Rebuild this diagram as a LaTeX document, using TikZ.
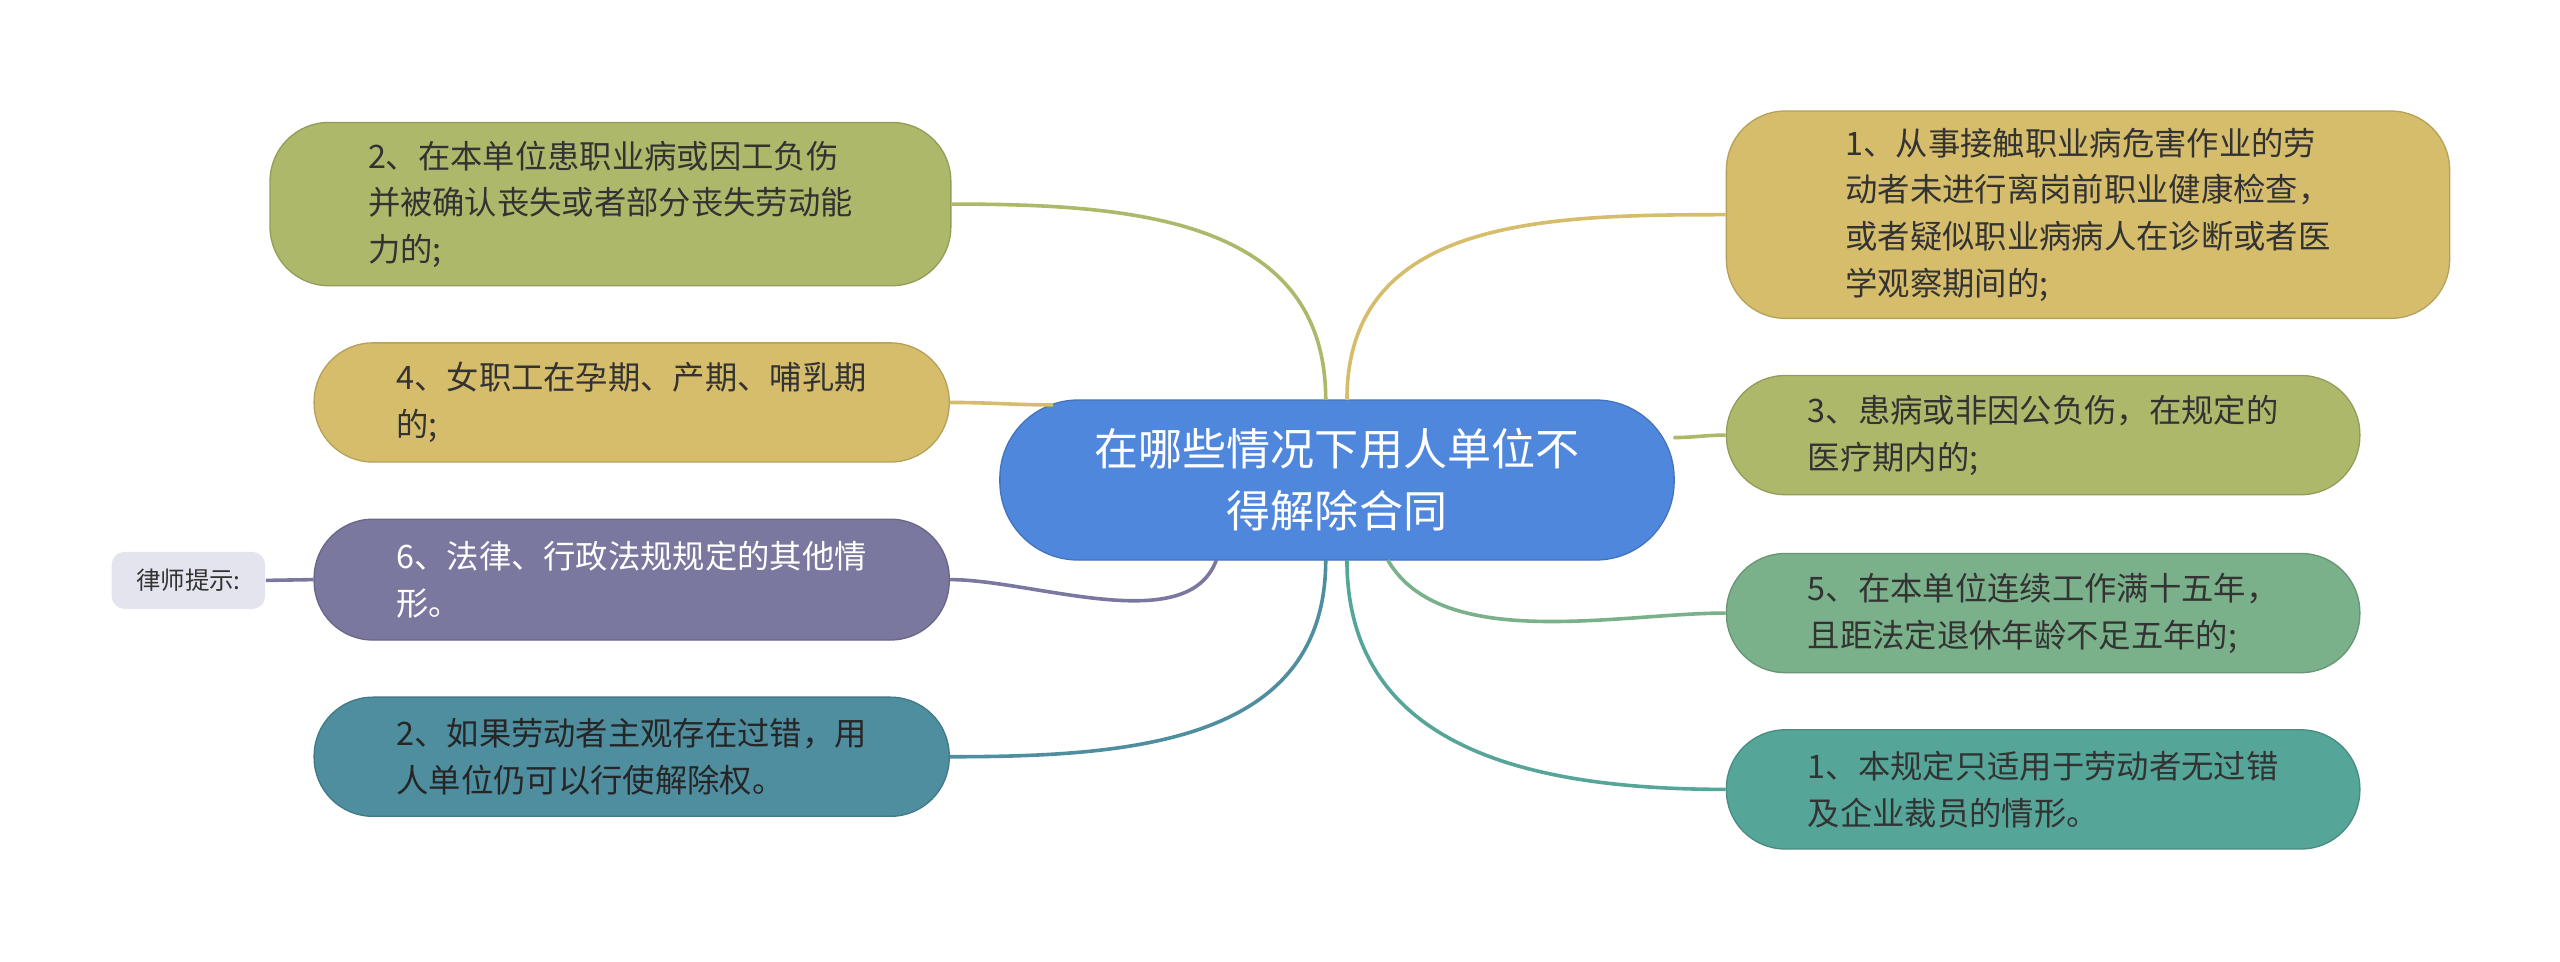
\documentclass[tikz,border=0pt]{standalone}
\usepackage{fontspec}
\setmainfont{Noto Sans CJK SC}
\begin{document}
\begin{tikzpicture}[x=0.5pt,y=0.5pt,
 box/.style={rounded corners=18pt,anchor=west,align=left,font=\fontsize{9.9pt}{14.3pt}\selectfont,text=black!80,inner sep=0pt},
 con/.style={line width=1.1pt}]
\definecolor{cblue}{HTML}{4F87DD}
\definecolor{colive}{HTML}{AEB86A}
\definecolor{cyel}{HTML}{D5BD6B}
\definecolor{cpur}{HTML}{7B78A0}
\definecolor{cteal}{HTML}{4E8E9F}
\definecolor{cgreen}{HTML}{7AB08A}
\definecolor{ctg}{HTML}{55A598}
\definecolor{cgray}{HTML}{E4E4EE}
\useasboundingbox[fill=white] (0,0) rectangle (1568,-589);
% center
\node[box,fill=cblue,draw=cblue!85!black,text=white,font=\fontsize{13.5pt}{19pt}\selectfont,align=center,rounded corners=24pt,minimum height=49pt,minimum width=206.5pt] (c) at (612,-294) {在哪些情况下用人单位不\\得解除合同};
% left
\node[box,fill=colive,draw=colive!85!black,minimum height=50pt,minimum width=208.5pt] (l1) at (165,-125) {2、在本单位患职业病或因工负伤\\并被确认丧失或者部分丧失劳动能\\力的;};
\node[box,fill=cyel,draw=cyel!85!black,minimum height=36.5pt,minimum width=194.5pt] (l2) at (192,-246.5) {4、女职工在孕期、产期、哺乳期\\的;};
\node[box,fill=cpur,draw=cpur!85!black,text=white,minimum height=37pt,minimum width=194.5pt] (l3) at (192,-355) {6、法律、行政法规规定的其他情\\形。};
\node[box,fill=cteal,draw=cteal!85!black,text=black!85,minimum height=36.5pt,minimum width=194.5pt] (l4) at (192,-463.5) {2、如果劳动者主观存在过错，用\\人单位仍可以行使解除权。};
\node[box,fill=cgray,rounded corners=4pt,minimum height=17.5pt,minimum width=47pt,font=\fontsize{7.5pt}{9pt}\selectfont,align=center] (t) at (68,-355.5) {律师提示:};
% right
\node[box,fill=cyel,draw=cyel!85!black,minimum height=63.5pt,minimum width=221.5pt] (r1) at (1057,-131.5) {1、从事接触职业病危害作业的劳\\动者未进行离岗前职业健康检查，\\或者疑似职业病病人在诊断或者医\\学观察期间的;};
\node[box,fill=colive,draw=colive!85!black,minimum height=36.5pt,minimum width=194pt] (r2) at (1057,-266.5) {3、患病或非因公负伤，在规定的\\医疗期内的;};
\node[box,fill=cgreen,draw=cgreen!85!black,minimum height=36.5pt,minimum width=194pt] (r3) at (1057,-375.5) {5、在本单位连续工作满十五年，\\且距法定退休年龄不足五年的;};
\node[box,fill=ctg,draw=ctg!85!black,minimum height=36.5pt,minimum width=194pt] (r4) at (1057,-483.5) {1、本规定只适用于劳动者无过错\\及企业裁员的情形。};
% connectors
\coordinate (ct1) at (812,-245);
\coordinate (ct2) at (645,-248);
\coordinate (ct3) at (745,-343);
\coordinate (ct4) at (812,-343);
\coordinate (cr1) at (825,-245);
\coordinate (cr2) at (1025,-268);
\coordinate (cr3) at (850,-343);
\coordinate (cr4) at (825,-343);
\draw[con,colive] (l1.east) to[out=0,in=90,looseness=1.1] (ct1);
\draw[con,cyel] (l2.east) to[out=0,in=180] (ct2);
\draw[con,cpur] (l3.east) to[out=0,in=-110,looseness=0.8] (ct3);
\draw[con,cteal] (l4.east) to[out=0,in=-90,looseness=1.1] (ct4);
\draw[con,cpur] (t.east) -- (l3.west);
\draw[con,cyel] (r1.west) to[out=180,in=90,looseness=1.1] (cr1);
\draw[con,colive] (r2.west) to[out=180,in=0] (cr2);
\draw[con,cgreen] (r3.west) to[out=180,in=-60,looseness=0.8] (cr3);
\draw[con,ctg] (r4.west) to[out=180,in=-90,looseness=1.1] (cr4);
\end{tikzpicture}
\end{document}
